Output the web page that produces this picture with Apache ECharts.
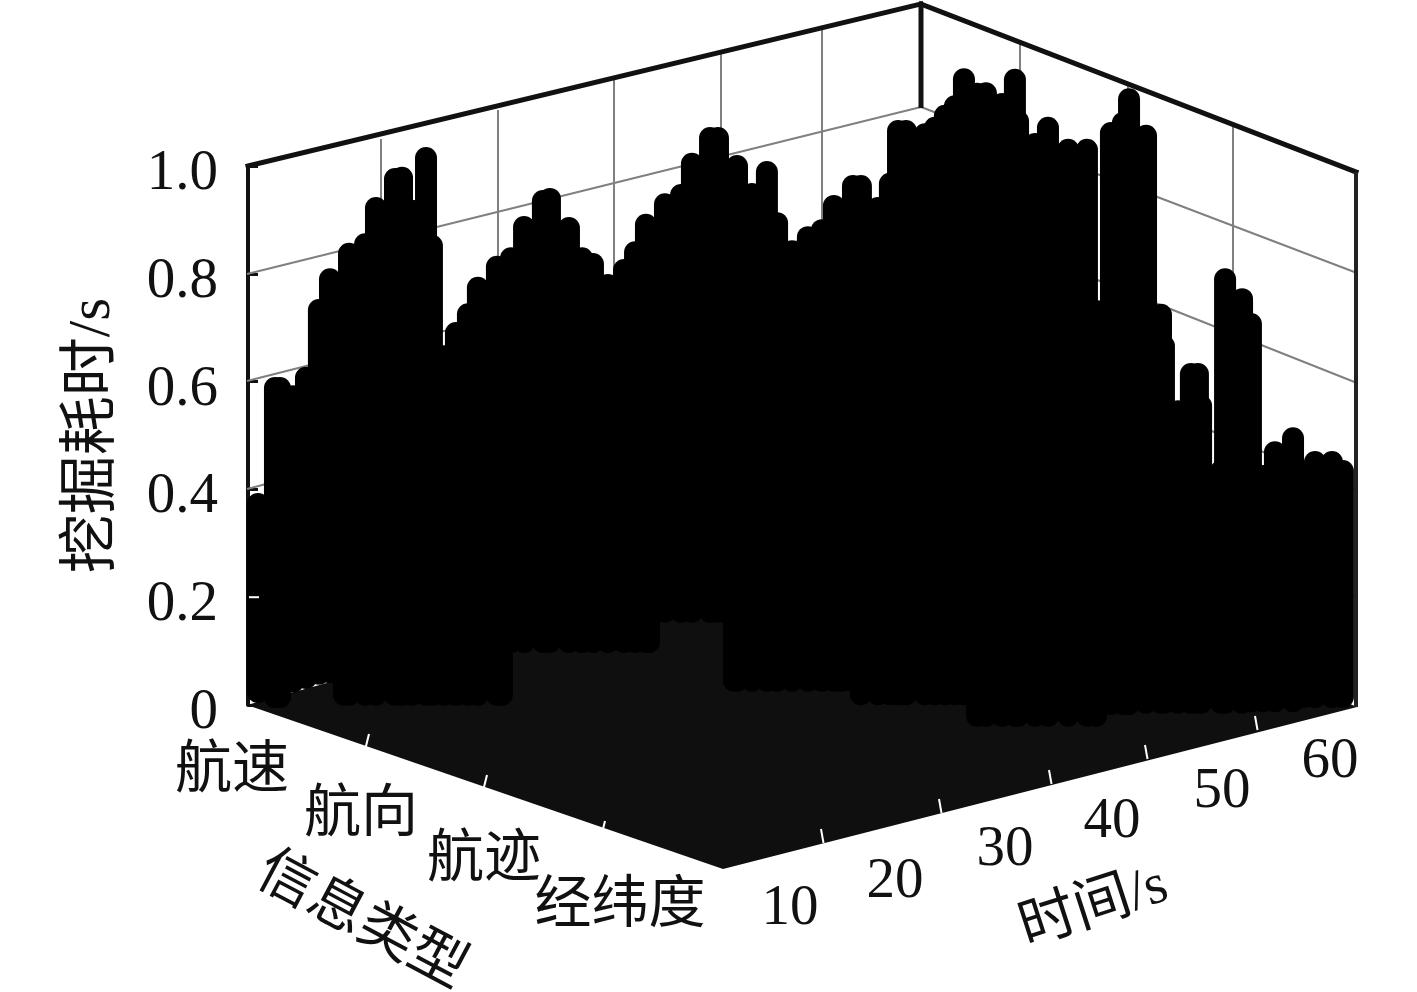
<!DOCTYPE html>
<html>
<head>
<meta charset="utf-8">
<script src="https://cdn.jsdelivr.net/npm/echarts@6/dist/echarts.min.js"></script>
<style>html,body{margin:0;padding:0;background:#fff}#c{width:1417px;height:992px}</style>
</head>
<body>
<div id="c"></div>
<script>
// ---- data ----
const typeLabels = ['航速', '航向', '航迹', '经纬度'];
const timeLabels = ['10', '20', '30', '40', '50', '60'];
const valueTicks = [0, 0.2, 0.4, 0.6, 0.8, 1.0];
const stemTime = [0.54,1.46,1.73,2.44,3.14,3.84,4.44,5.20,5.47,6.34,6.93,7.96,8.34,8.88,9.64,9.96,10.61,
  11.26,11.91,12.45,13.48,13.75,14.24,14.95,15.97,16.35,17.38,18.09,18.68,19.49,20.36,20.96,21.55,21.71,
  22.58,23.45,24.04,25.02,25.45,26.32,26.48,27.29,28.10,28.65,29.46,30.32,31.08,31.73,32.17,32.76,33.19,
  34.11,34.76,35.20,35.63,36.66,37.20,37.74,38.28,38.77,39.48,39.96,40.83,41.53,41.70,42.62,43.32,44.41,
  45.43,45.92,46.73,47.38,47.71,48.63,49.44,49.60,50.36,51.06,51.44,51.61,52.69,52.91,53.83,54.31,54.96,
  55.61,56.59,57.18,57.78,58.70,59.29];
const stemValue = [.373,.588,.588,.573,.607,.733,.790,.545,.837,.855,.922,.976,.978,.917,1.015,.852,.647,
  .690,.725,.774,.813,.731,.829,.887,.935,.939,.885,.829,.818,.779,.807,.840,.891,.545,
  .929,.946,1.004,1.052,1.052,.545,1.0,.948,.989,.894,.842,.868,.881,.926,.731,.963,.963,
  .922,.967,1.065,1.065,1.059,1.071,1.093,1.111,1.161,1.134,1.135,1.115,1.160,1.083,1.041,1.071,1.030,
  1.030,.731,1.061,1.080,1.124,1.056,.724,.666,.545,.614,.614,.555,.434,.790,.753,.707,.425,
  .469,.495,.378,.451,.451,.434];
const stemBase = [.024,.015,.015,.043,.05,.058,.061,.019,.019,.019,.019,.019,.019,.019,.019,.019,.019,
  .019,.019,.019,.019,.019,.117,.117,.117,.117,.117,.117,.117,.117,.117,.117,.117,.117,
  .173,.173,.173,.173,.173,.045,.045,.045,.045,.045,.045,.045,.045,.045,.045,.045,.02,
  .02,.02,.02,.02,.02,.02,.02,.02,.02,-.02,-.02,-.02,-.02,-.02,-.02,-.02,-.02,
  -.02,-.02,.002,.002,.002,.004,.004,.004,.004,.004,.004,.004,.004,.004,.004,.007,.007,
  .007,.007,.015,.015,.015,.015];

// ---- layout (frame of the box, in page pixels) ----
const INK = '#111', GRID = '#808080', FLOOR = '#0f0f0f';
const corner = { left: [247, 705], front: [723, 869], right: [1357, 707], back: [921, 519],
                 leftTop: [248, 166], backTop: [921, 4], rightTop: [1356, 172] };
const leftWallX = [[381, 139, 668], [498, 110, 636], [614, 78, 604], [721, 52, 574], [822, 27, 546]];
const rightWallX = [[1020, 43, 562], [1128, 83, 608], [1233, 125, 654]];
const leftWallLevels = [[274, 107], [381, 210], [489, 313], [597, 416]];
const rightWallLevels = [[107, 273], [210, 383], [313, 490], [416, 598]];
const timeTickAt = [[821, 829], [939, 799], [1049, 770], [1145, 745], [1255, 716]];
const typeTickAt = [[369, 734], [487, 775], [605, 821]];
const timeLabelAt = [[790, 909], [895, 882], [1005, 850], [1112, 822], [1222, 792], [1330, 762]];
const typeLabelAt = [[232, 772], [361, 816], [484, 861], [620, 907]];

const FONT = '"Liberation Serif","Noto Sans CJK SC",serif';

function seg(x1, y1, x2, y2, color, w, cap) {
  return { type: 'line', shape: { x1, y1, x2, y2 },
           style: { stroke: color, lineWidth: w, lineCap: cap || 'butt', fill: null } };
}
function renderFrame() {
  const c = corner, kids = [];
  kids.push({ type: 'polygon', shape: { points: [c.left, c.front, c.right, c.back] }, style: { fill: FLOOR } });
  leftWallX.forEach(a => kids.push(seg(a[0], a[1], a[0], a[2], GRID, 2)));
  rightWallX.forEach(a => kids.push(seg(a[0], a[1], a[0], a[2], GRID, 2)));
  leftWallLevels.forEach(a => kids.push(seg(c.left[0], a[0], c.back[0], a[1], GRID, 2)));
  rightWallLevels.forEach(a => kids.push(seg(c.back[0], a[0], c.right[0], a[1], GRID, 2)));
  kids.push(seg(c.leftTop[0], c.leftTop[1], c.backTop[0], c.backTop[1], INK, 5, 'square'));
  kids.push(seg(c.backTop[0], c.backTop[1], c.rightTop[0], c.rightTop[1], INK, 5, 'square'));
  kids.push(seg(c.backTop[0], c.backTop[1], c.backTop[0], 108, INK, 5));
  kids.push(seg(c.rightTop[0], c.rightTop[1], c.rightTop[0], c.right[1], '#222', 4));
  return { type: 'group', children: kids };
}
function renderTicks(params, api) {
  const kids = [];
  const y02 = api.coord([0, 0.2]);
  kids.push(seg(y02[0] + 1, y02[1], y02[0] + 11, y02[1], '#fff', 2));
  timeTickAt.forEach(p => kids.push(seg(p[0], p[1], p[0] + 2.5, p[1] + 14, '#fff', 2)));
  typeTickAt.forEach(p => kids.push(seg(p[0], p[1], p[0] - 3.5, p[1] + 14, '#fff', 2)));
  return { type: 'group', children: kids };
}
function renderStem(params, api) {
  const a = api.coord([api.value(0), api.value(1)]);
  const b = api.coord([api.value(0), api.value(2)]);
  return seg(a[0], a[1], b[0], b[1], '#000', 22, 'round');
}

function label(text, p, size, rot) {
  return { type: 'text', x: p[0], y: p[1], rotation: (rot || 0) * Math.PI / 180,
           style: { text, font: size + 'px ' + FONT, fill: '#111', align: 'center', verticalAlign: 'middle' } };
}
const texts = [];
typeLabels.forEach((t, i) => texts.push(label(t, typeLabelAt[i], 57)));
timeLabels.forEach((t, i) => texts.push(label(t, timeLabelAt[i], 57)));
texts.push(label('信息类型', [361, 922], 57, -28));
texts.push(label('时间/s', [1094, 908], 57, 18));

const chart = echarts.init(document.getElementById('c'), null, { renderer: 'canvas' });
chart.setOption({
  animation: false,
  backgroundColor: '#fff',
  grid: { left: 248, right: 61, top: 166, bottom: 287, containLabel: false },
  xAxis: { type: 'value', min: 0, max: 60, interval: 10, show: false },
  yAxis: {
    type: 'value', min: 0, max: 1, interval: 0.2,
    name: '挖掘耗时/s', nameLocation: 'middle', nameRotate: 90, nameGap: 125,
    nameTextStyle: { fontFamily: FONT, fontSize: 59, color: '#111' },
    axisLine: { show: true, lineStyle: { color: INK, width: 4 } },
    axisTick: { show: true, inside: true, length: 10, lineStyle: { color: INK, width: 3 } },
    splitLine: { show: false },
    axisLabel: { fontFamily: FONT, fontSize: 57, color: '#111', margin: 30, verticalAlign: 'top', lineHeight: 16,
      formatter: v => (valueTicks.indexOf(+v.toFixed(1)) === 0 ? '0' : v.toFixed(1)) }
  },
  graphic: { elements: texts },
  series: [
    { type: 'custom', name: 'frame', z: 1, silent: true, data: [[0, 0]], renderItem: renderFrame, clip: false },
    { type: 'custom', name: '挖掘耗时', z: 2, silent: true, clip: false, renderItem: renderStem,
      encode: { x: 0, y: 1 },
      data: stemTime.map((t, i) => [t, stemBase[i], stemValue[i]]) },
    { type: 'custom', name: 'ticks', z: 3, silent: true, data: [[0, 0]], renderItem: renderTicks, clip: false }
  ]
});
</script>
</body>
</html>
